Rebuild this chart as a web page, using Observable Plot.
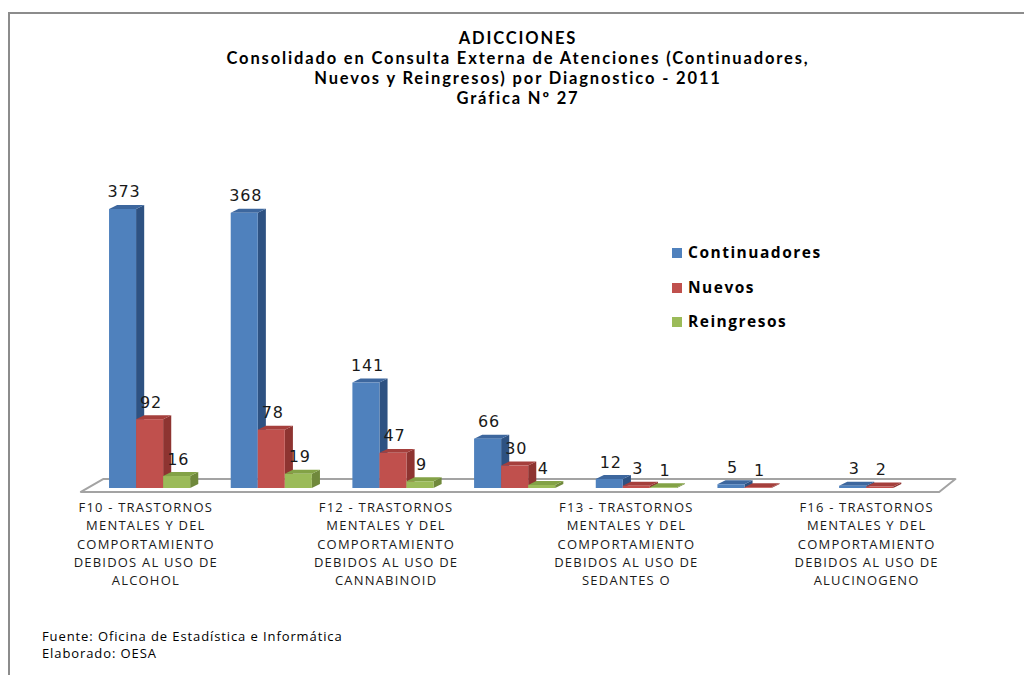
<!DOCTYPE html>
<html>
<head>
<meta charset="utf-8">
<script src="https://cdn.jsdelivr.net/npm/d3@7"></script>
<script src="https://cdn.jsdelivr.net/npm/@observablehq/plot@0.6"></script>
<style>
  html, body { margin: 0; padding: 0; background: #fff; }
  #wrap { position: relative; width: 1024px; height: 675px; overflow: hidden; background: #fff; font-family: "Open Sans", sans-serif; }
  #frame { position: absolute; left: 8px; top: 12px; width: 1100px; height: 800px; border-left: 2px solid #8c8c8c; border-top: 2px solid #8c8c8c; }
  #title { position: absolute; left: 0; top: 28px; width: 1036px; text-align: center; font-family: Lato, "Open Sans", sans-serif; font-weight: 700; font-size: 16.5px; letter-spacing: 1.85px; line-height: 20px; color: #000; }
  #chart { position: absolute; left: 0; top: 110px; }
  #legend { position: absolute; left: 672px; top: 242px; }
  #legend .row { height: 34.5px; line-height: 20px; font-weight: 700; font-size: 15.5px; letter-spacing: 1.5px; color: #000; white-space: nowrap; }
  #legend .sw { display: inline-block; width: 10px; height: 10px; margin-right: 6px; vertical-align: 0px; }
  #caption { position: absolute; left: 42px; top: 628px; font-size: 13px; letter-spacing: 0.9px; line-height: 16.5px; color: #000; }
  #chart svg [aria-label="x-axis tick label"] text { letter-spacing: 1.2px; }
  #chart svg [aria-label="text"] text { letter-spacing: 0.8px; }
</style>
</head>
<body>
<div id="wrap">
  <div id="frame"></div>
  <div id="title"></div>
  <div id="chart"></div>
  <div id="legend"></div>
  <div id="caption"></div>
</div>
<script>
// ---------------- data ----------------
const titleLines = [
  "ADICCIONES",
  "Consolidado en Consulta Externa de Atenciones (Continuadores,",
  "Nuevos y Reingresos) por Diagnostico - 2011",
  "Gráfica Nº 27"
];
const captionLines = [
  "Fuente: Oficina de Estadística e Informática",
  "Elaborado: OESA"
];
const categories = ["F10", "cat2", "F12", "cat4", "F13", "cat6", "F16"];
const tickLabels = [
  "F10 - TRASTORNOS\nMENTALES Y DEL\nCOMPORTAMIENTO\nDEBIDOS AL USO DE\nALCOHOL",
  "",
  "F12 - TRASTORNOS\nMENTALES Y DEL\nCOMPORTAMIENTO\nDEBIDOS AL USO DE\nCANNABINOID",
  "",
  "F13 - TRASTORNOS\nMENTALES Y DEL\nCOMPORTAMIENTO\nDEBIDOS AL USO DE\nSEDANTES O",
  "",
  "F16 - TRASTORNOS\nMENTALES Y DEL\nCOMPORTAMIENTO\nDEBIDOS AL USO DE\nALUCINOGENO"
];
const series = ["Continuadores", "Nuevos", "Reingresos"];
const continuadores = [373, 368, 141, 66, 12, 5, 3];
const nuevos        = [92, 78, 47, 30, 3, 1, 2];
const reingresos    = [16, 19, 9, 4, 1, null, null];

// ---------------- styles ----------------
const frontColors = ["#4F81BD", "#C0504D", "#9BBB59"];
const sideColors  = ["#2E5282", "#8E3431", "#70893C"];
const topColors   = ["#3D679E", "#A53F3C", "#83A246"];
const STEP = 4.5;      // category step, in bar widths
const TICK_STEP = 4.443;
const TICK_OFF = 1.342;
const DX = 0.3;        // 3D depth offset (bar widths)
const DY = 5.3;        // 3D depth offset (value units)

// ---------------- build faces ----------------
const values = [continuadores, nuevos, reingresos];
const bars = [];
categories.forEach((c, i) => {
  series.forEach((s, j) => {
    const v = values[j][i];
    if (v == null) return;
    const xl = i * STEP + j;
    bars.push({cat: c, s, j, v, xl, xr: xl + 1});
  });
});
const sides = [], tops = [];
bars.forEach((b, k) => {
  sides.push({id: k, x: b.xr, y1: 0, y2: b.v, fill: sideColors[b.j]});
  sides.push({id: k, x: b.xr + DX, y1: DY, y2: b.v + DY, fill: sideColors[b.j]});
  tops.push({id: k, y: b.v, x1: b.xl, x2: b.xr, fill: topColors[b.j]});
  tops.push({id: k, y: b.v + DY, x1: b.xl + DX, x2: b.xr + DX, fill: topColors[b.j]});
});
const nCat = categories.length;
const xEnd = (nCat - 1) * STEP + series.length;
const floor = [
  {y: -5.3, x1: -1.04, x2: xEnd + 0.7},
  {y: 12, x1: -0.22, x2: xEnd + 1.3}
];
const tickPos = categories.map((c, i) => i * TICK_STEP + TICK_OFF);

// ---------------- html text ----------------
document.getElementById("title").innerHTML = titleLines.map(t => `<div>${t}</div>`).join("");
document.getElementById("caption").innerHTML = captionLines.map(t => `<div>${t}</div>`).join("");
document.getElementById("legend").innerHTML = series.map((s, j) =>
  `<div class="row"><span class="sw" style="background:${frontColors[j]}"></span>${s}</div>`).join("");

// ---------------- plot ----------------
const unit = 27.04;
const plot = Plot.plot({
  width: 1024,
  height: 490,
  marginLeft: 82,
  marginRight: 1024 - 82 - 32 * unit,
  marginTop: 78.8,
  marginBottom: 112,
  x: {type: "linear", domain: [-1, 31], axis: null},
  y: {type: "linear", domain: [0, 400], axis: null},
  color: {type: "identity"},
  marks: [
    Plot.areaX(floor, {y: "y", x1: "x1", x2: "x2", fill: "white", stroke: "#a3a3a3", strokeWidth: 2}),
    Plot.areaY(sides, {x: "x", y1: "y1", y2: "y2", z: "id", fill: "fill"}),
    Plot.areaX(tops, {y: "y", x1: "x1", x2: "x2", z: "id", fill: "fill"}),
    Plot.rect(bars, {x1: "xl", x2: "xr", y1: 0, y2: "v", fill: d => frontColors[d.j]}),
    Plot.text(bars, {x: d => d.xl + 0.5, y: "v", text: d => String(d.v), dx: 1, dy: -12,
      lineAnchor: "bottom", fontSize: 16, fontFamily: "DejaVu Sans", fill: "#1a1a1a"}),
    Plot.axisX(tickPos, {
      ticks: tickPos, tickSize: 0, tickPadding: 10,
      tickFormat: d => tickLabels[Math.round((d - TICK_OFF) / TICK_STEP)],
      fontSize: 13, fontFamily: "Open Sans", lineHeight: 1.42, fill: "#1a1a1a", label: null
    })
  ]
});
document.getElementById("chart").appendChild(plot);
</script>
</body>
</html>
